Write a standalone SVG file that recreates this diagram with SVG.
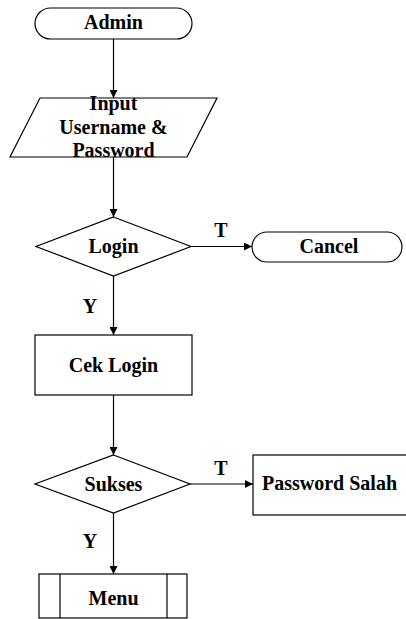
<svg xmlns="http://www.w3.org/2000/svg" width="406" height="619" viewBox="0 0 406 619">
<style>
.s{fill:#fff;stroke:#000;stroke-width:1.2}
.t{font-family:"Liberation Serif","Times New Roman",serif;font-weight:bold;font-size:20px;fill:#000;text-anchor:middle}
.c{stroke:#000;stroke-width:1.2;fill:none;marker-end:url(#a)}
</style>
<defs>
<marker id="a" viewBox="0 0 10 10" refX="10" refY="5" markerWidth="8" markerHeight="8" markerUnits="userSpaceOnUse" orient="auto">
<path d="M0,0 L10,5 L0,10 z" fill="#000"/>
</marker>
</defs>
<rect width="406" height="619" fill="#fff"/>
<g id="connectors">
<line class="c" x1="113.5" y1="39" x2="113.5" y2="98"/>
<line class="c" x1="113.5" y1="157" x2="113.5" y2="217"/>
<line class="c" x1="191" y1="246.5" x2="252" y2="246.5"/>
<line class="c" x1="113.5" y1="276" x2="113.5" y2="335"/>
<line class="c" x1="113.5" y1="395" x2="113.5" y2="455"/>
<line class="c" x1="190" y1="484" x2="253" y2="484"/>
<line class="c" x1="113.5" y1="513" x2="113.5" y2="574"/>
<text class="t" x="221" y="237">T</text>
<text class="t" x="90" y="313">Y</text>
<text class="t" x="221" y="475">T</text>
<text class="t" x="90" y="548">Y</text>
</g>
<g id="admin">
<rect class="s" x="35" y="8" width="157" height="31" rx="15.5"/>
<text class="t" x="113.5" y="29">Admin</text>
</g>
<g id="input">
<polygon class="s" points="40,98 217,98 187,157 10,157"/>
<text class="t" x="113.5" y="110">Input</text>
<text class="t" x="113.5" y="134">Username &amp;</text>
<text class="t" x="113.5" y="157">Password</text>
</g>
<g id="login">
<polygon class="s" points="113.5,217 191,246.5 113.5,276 36,246.5"/>
<text class="t" x="113.5" y="253">Login</text>
</g>
<g id="cancel">
<rect class="s" x="252" y="232" width="150" height="30" rx="15"/>
<text class="t" x="329" y="253">Cancel</text>
</g>
<g id="ceklogin">
<rect class="s" x="35" y="335" width="157" height="60"/>
<text class="t" x="113.5" y="372">Cek Login</text>
</g>
<g id="sukses">
<polygon class="s" points="113.5,455 190,484 113.5,513 35,484"/>
<text class="t" x="113.5" y="491">Sukses</text>
</g>
<g id="passwordsalah">
<rect class="s" x="253" y="455" width="160" height="60"/>
<text class="t" x="329.5" y="490">Password Salah</text>
</g>
<g id="menu">
<rect class="s" x="39" y="574" width="148" height="44"/>
<line x1="60" y1="574" x2="60" y2="618" stroke="#000" stroke-width="1.2"/>
<line x1="167" y1="574" x2="167" y2="618" stroke="#000" stroke-width="1.2"/>
<text class="t" x="113.5" y="605">Menu</text>
</g>
</svg>
